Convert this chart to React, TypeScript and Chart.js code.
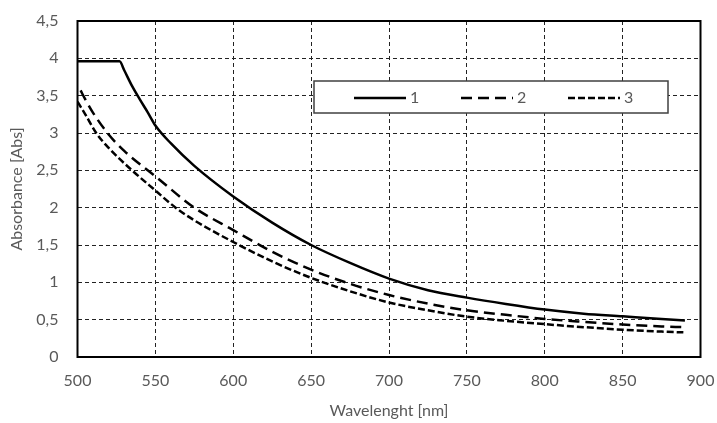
import React, { useEffect, useRef } from "react";
import { Chart, registerables } from "chart.js";

Chart.register(...registerables);

const wavelength1 = [500, 510, 520, 527, 530, 535, 540, 545, 550, 560, 575, 600, 625, 650, 675, 700, 725, 750, 775, 800, 825, 850, 875, 890];
const absorbance1 = [3.96, 3.96, 3.96, 3.96, 3.84, 3.63, 3.45, 3.28, 3.1, 2.86, 2.56, 2.15, 1.8, 1.5, 1.26, 1.05, 0.895, 0.795, 0.71, 0.635, 0.58, 0.545, 0.51, 0.49];

const wavelength2 = [502, 505, 510, 520, 530, 550, 575, 600, 625, 650, 675, 700, 725, 750, 775, 800, 825, 850, 875, 889];
const absorbance2 = [3.57, 3.45, 3.27, 2.98, 2.76, 2.42, 2.0, 1.7, 1.41, 1.17, 0.98, 0.83, 0.715, 0.625, 0.565, 0.51, 0.47, 0.435, 0.41, 0.4];

const wavelength3 = [500, 505, 512, 520, 535, 550, 563, 575, 600, 625, 650, 675, 700, 725, 750, 775, 800, 825, 850, 875, 889];
const absorbance3 = [3.42, 3.25, 3.0, 2.8, 2.5, 2.23, 2.0, 1.83, 1.54, 1.28, 1.06, 0.88, 0.73, 0.625, 0.54, 0.485, 0.44, 0.4, 0.365, 0.34, 0.33];

const seriesLabels = ["1", "2", "3"];
const seriesDashes: number[][] = [[], [11, 6], [7, 3]];

const xTitle = "Wavelenght [nm]";
const yTitle = "Absorbance [Abs]";

const FONT = "Lato, 'Open Sans', sans-serif";
const GREY = "#595959";

const toPoints = (xs: number[], ys: number[]) => xs.map((x, i) => ({ x, y: ys[i] }));

const framePlugin = {
  id: "frameAndLegend",
  afterDatasetsDraw(chart: any) {
    const { ctx, chartArea } = chart;
    ctx.save();
    // plot border
    ctx.strokeStyle = "#000";
    ctx.lineWidth = 2;
    ctx.setLineDash([]);
    ctx.strokeRect(chartArea.left, chartArea.top, chartArea.right - chartArea.left, chartArea.bottom - chartArea.top);

    // legend box
    const bx = 314, by = 81, bw = 354, bh = 32;
    ctx.fillStyle = "#fff";
    ctx.fillRect(bx, by, bw, bh);
    ctx.strokeStyle = "#404040";
    ctx.lineWidth = 1.5;
    ctx.strokeRect(bx, by, bw, bh);

    const starts = [354, 461, 568];
    const cy = by + bh / 2 + 1;
    chart.data.datasets.forEach((ds: any, i: number) => {
      ctx.strokeStyle = "#000";
      ctx.lineWidth = 2.5;
      ctx.setLineDash(ds.borderDash || []);
      ctx.beginPath();
      ctx.moveTo(starts[i], cy);
      ctx.lineTo(starts[i] + 52, cy);
      ctx.stroke();
      ctx.setLineDash([]);
      ctx.fillStyle = GREY;
      ctx.font = `16px ${FONT}`;
      ctx.textBaseline = "middle";
      ctx.textAlign = "left";
      ctx.fillText(ds.label, starts[i] + 56, cy);
    });
    ctx.restore();
  },
};

export default function App() {
  const canvasRef = useRef<HTMLCanvasElement | null>(null);

  useEffect(() => {
    document.body.style.margin = "0";
    const canvas = canvasRef.current;
    if (!canvas) return;
    const data = [
      toPoints(wavelength1, absorbance1),
      toPoints(wavelength2, absorbance2),
      toPoints(wavelength3, absorbance3),
    ];
    const chart = new Chart(canvas, {
      type: "line",
      data: {
        datasets: data.map((d, i) => ({
          label: seriesLabels[i],
          data: d,
          borderColor: "#000",
          borderWidth: 2.5,
          borderDash: seriesDashes[i],
          pointRadius: 0,
          fill: false,
          cubicInterpolationMode: "monotone" as const,
        })),
      },
      options: {
        animation: false,
        responsive: false,
        layout: { padding: { top: 21, right: 16.5, left: 0, bottom: 0 } },
        plugins: { legend: { display: false }, tooltip: { enabled: false } },
        scales: {
          x: {
            type: "linear",
            min: 500,
            max: 900,
            ticks: { stepSize: 50, color: GREY, font: { family: FONT, size: 16 }, padding: 14, maxRotation: 0 },
            grid: { color: "#222", lineWidth: 1, drawTicks: false },
            border: { display: false, dash: [4, 3] },
            title: { display: true, text: xTitle, color: GREY, font: { family: FONT, size: 16 }, padding: { top: 0, bottom: 3 } },
            afterFit: (s: any) => { s.height = 66; s.paddingLeft = 0; s.paddingRight = 0; },
          },
          y: {
            type: "linear",
            min: 0,
            max: 4.5,
            ticks: {
              stepSize: 0.5,
              color: GREY,
              font: { family: FONT, size: 16 },
              padding: 19,
              callback: (v: any) => String(v).replace(".", ","),
            },
            grid: { color: "#222", lineWidth: 1, drawTicks: false },
            border: { display: false, dash: [4, 3] },
            title: { display: true, text: yTitle, color: GREY, font: { family: FONT, size: 16 }, padding: { top: 7, bottom: 0 } },
            afterFit: (s: any) => { s.width = 77.5; s.paddingTop = 0; s.paddingBottom = 0; },
          },
        },
      },
      plugins: [framePlugin],
    });
    return () => chart.destroy();
  }, []);

  return (
    <div style={{ width: 717, height: 423, background: "#fff" }}>
      <canvas ref={canvasRef} width={717} height={423} style={{ display: "block" }} />
    </div>
  );
}
